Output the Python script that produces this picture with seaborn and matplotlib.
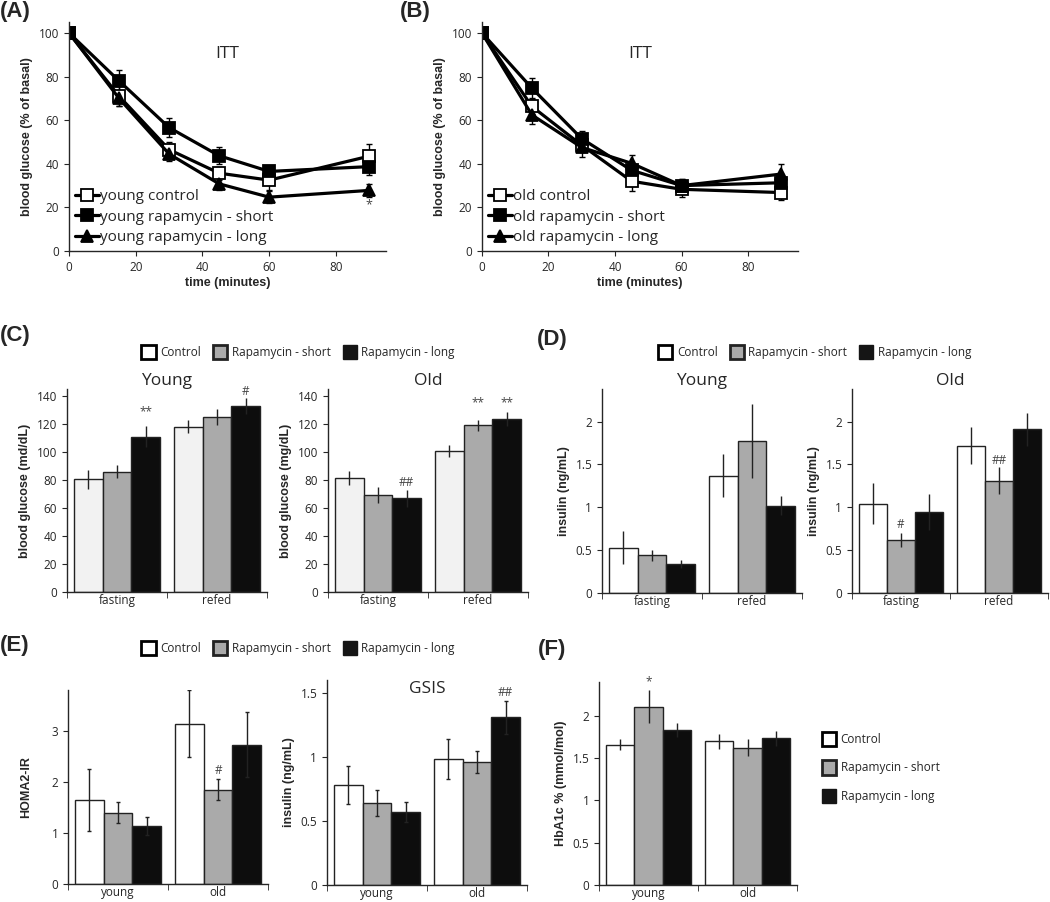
import numpy as np
import pandas as pd
import seaborn as sns
import matplotlib
matplotlib.use("Agg")
import matplotlib.pyplot as plt
from matplotlib.patches import Patch

# ---- data ----
times = [0, 15, 30, 45, 60, 90]
young_control = [100, 71, 46.5, 35.7, 32.5, 43.5]
young_control_err = [0, 4.5, 3.5, 3, 4.5, 5.5]
young_short = [100, 78, 56.6, 43.7, 36.5, 38.7]
young_short_err = [0, 5, 4.4, 3.8, 2.5, 3.8]
young_long = [100, 70, 44.5, 30.8, 24.7, 27.8]
young_long_err = [0, 3.5, 3, 2.8, 2.7, 3]
old_control = [100, 66.3, 48.5, 32, 28.3, 26.8]
old_control_err = [0, 3.5, 3, 4.5, 3.5, 3.5]
old_short = [100, 74.7, 51.5, 37, 30, 31.3]
old_short_err = [0, 4.6, 3.5, 3, 3, 4]
old_long = [100, 62.4, 47.5, 40.2, 30, 35.3]
old_long_err = [0, 4.2, 4.5, 4, 3, 4.6]

treatments = ["Control", "Rapamycin - short", "Rapamycin - long"]
meals = ["fasting", "refed"]
ages = ["young", "old"]

# (C) blood glucose, one list per treatment over [fasting, refed]
glu_young = [[80.5, 118], [86, 125], [111, 132.5]]
glu_young_err = [[6.8, 4.8], [4.5, 5.5], [7.6, 5.7]]
glu_old = [[81.5, 101], [69, 119], [67, 123.5]]
glu_old_err = [[4.9, 4.3], [5.7, 4.0], [6, 5.2]]

# (D) insulin
ins_young = [[0.53, 1.37], [0.44, 1.77], [0.34, 1.02]]
ins_young_err = [[0.19, 0.25], [0.065, 0.43], [0.05, 0.11]]
ins_old = [[1.04, 1.72], [0.62, 1.31], [0.94, 1.91]]
ins_old_err = [[0.24, 0.22], [0.08, 0.16], [0.21, 0.19]]

# (E) HOMA2-IR and GSIS over [young, old]
homa = [[1.65, 3.14], [1.40, 1.85], [1.14, 2.73]]
homa_err = [[0.61, 0.66], [0.2, 0.2], [0.18, 0.64]]
gsis = [[0.78, 0.985], [0.64, 0.957], [0.57, 1.31]]
gsis_err = [[0.15, 0.155], [0.1, 0.085], [0.08, 0.13]]

# (F) HbA1c
hba1c = [[1.66, 1.70], [2.11, 1.625], [1.83, 1.735]]
hba1c_err = [[0.06, 0.09], [0.2, 0.1], [0.08, 0.09]]

# significance marks: (group, treatment, text, y)
glu_young_marks = [("fasting", "Rapamycin - long", "**", 129), ("refed", "Rapamycin - long", "#", 143)]
glu_old_marks = [("fasting", "Rapamycin - long", "##", 78), ("refed", "Rapamycin - short", "**", 135),
                 ("refed", "Rapamycin - long", "**", 135)]
ins_old_marks = [("fasting", "Rapamycin - short", "#", 0.80), ("refed", "Rapamycin - short", "##", 1.55)]
homa_marks = [("old", "Rapamycin - short", "#", 2.23)]
gsis_marks = [("old", "Rapamycin - long", "##", 1.50)]
hba1c_marks = [("young", "Rapamycin - short", "*", 2.40)]

# ---- style ----
sns.set_style("ticks")
plt.rcParams["font.family"] = ["Open Sans", "DejaVu Sans"]
plt.rcParams["axes.linewidth"] = 1.0
plt.rcParams["xtick.labelsize"] = 8.5
plt.rcParams["ytick.labelsize"] = 8.5
plt.rcParams["xtick.major.size"] = 3.5
plt.rcParams["ytick.major.size"] = 3.5

BOLD = dict(family=["Liberation Sans", "DejaVu Sans"], weight="bold")
gray = "#aaaaaa"
dark = "#0d0d0d"
edge = "#222222"

fig = plt.figure(figsize=(10.5, 9.02), dpi=100)


def itt_panel(ax, series, labels):
    styles = [("s", "white", 8), ("s", "black", 8), ("^", "black", 9)]
    for (vals, err), lab, (mk, fc, ms) in zip(series, labels, styles):
        ax.errorbar(times, vals, yerr=err, fmt="none", ecolor="black", elinewidth=1,
                    capsize=2, capthick=1, zorder=1)
        sns.lineplot(x=times, y=vals, ax=ax, color="black", linewidth=2.3, marker=mk,
                     markersize=ms, markerfacecolor=fc, markeredgecolor="black",
                     markeredgewidth=1.3, label=lab, zorder=2)
    ax.set_xlim(0, 95)
    ax.set_ylim(0, 105)
    ax.set_xticks([0, 20, 40, 60, 80])
    ax.set_yticks([0, 20, 40, 60, 80, 100])
    ax.set_xlabel("time (minutes)", fontsize=9, labelpad=2, **BOLD)
    ax.set_ylabel("blood glucose (% of basal)", fontsize=9, **BOLD)
    ax.legend(loc="lower left", frameon=False, fontsize=11, handlelength=1.55,
              handletextpad=0.1, labelspacing=0.35, borderpad=0, borderaxespad=0.4)
    ax.text(0.5, 0.86, "ITT", transform=ax.transAxes, ha="center", va="center", fontsize=12.5)
    sns.despine(ax=ax)


def bar_panel(ax, cats, means, errs, colors, ylim, yticks, ylabel, marks=(), capsize=0,
              labelpad=4):
    df = pd.DataFrame({
        "group": [c for t in treatments for c in cats],
        "treatment": [t for t in treatments for c in cats],
        "value": [v for m in means for v in m],
    })
    sns.barplot(data=df, x="group", y="value", hue="treatment", order=cats,
                hue_order=treatments, palette=colors, saturation=1, width=0.86, gap=0,
                edgecolor=edge, linewidth=1, errorbar=None, legend=False, ax=ax)
    bars = list(ax.containers[:3])
    for cont, m, e in zip(bars, means, errs):
        xs = [p.get_x() + p.get_width() / 2 for p in cont]
        ax.errorbar(xs, m, yerr=e, fmt="none", ecolor=edge, elinewidth=1,
                    capsize=capsize, capthick=1, zorder=3)
    for g, t, txt, y in marks:
        p = bars[treatments.index(t)][cats.index(g)]
        ax.text(p.get_x() + p.get_width() / 2, y, txt, ha="center", va="center",
                fontsize=8.5, color="#444444")
    ax.set_ylim(*ylim)
    ax.set_yticks(yticks)
    ax.set_yticklabels([f"{t:g}" for t in yticks])
    ax.set_xlim(-0.5, len(cats) - 0.5)
    ax.set_xlabel("")
    ax.set_ylabel(ylabel, fontsize=9, labelpad=labelpad, **BOLD)
    ax.tick_params(axis="x", which="major", length=0, pad=1.5)
    ax.set_xticks([-0.5, 0.5, 1.5], minor=True)
    ax.tick_params(axis="x", which="minor", length=4, direction="out")
    sns.despine(ax=ax)


def legend_handles():
    return [Patch(facecolor="white", edgecolor="black", linewidth=2),
            Patch(facecolor=gray, edgecolor=edge, linewidth=2),
            Patch(facecolor="#151515", edgecolor="#151515", linewidth=1)]


# (A) / (B)
ax_a = fig.add_axes([0.0657, 0.7217, 0.3019, 0.2539])
itt_panel(ax_a, [(young_control, young_control_err), (young_short, young_short_err),
                 (young_long, young_long_err)],
          ["young control", "young rapamycin - short", "young rapamycin - long"])
ax_a.text(90, 21, "*", ha="center", va="center", fontsize=9, color="#444444")

ax_b = fig.add_axes([0.459, 0.7217, 0.301, 0.2539])
itt_panel(ax_b, [(old_control, old_control_err), (old_short, old_short_err),
                 (old_long, old_long_err)],
          ["old control", "old rapamycin - short", "old rapamycin - long"])

# (C)
c_colors = ["#f2f2f2", gray, dark]
w_colors = ["white", gray, dark]
ax_c1 = fig.add_axes([0.0638, 0.3437, 0.1905, 0.2251])
bar_panel(ax_c1, meals, glu_young, glu_young_err, c_colors, (0, 145),
          [0, 20, 40, 60, 80, 100, 120, 140], "blood glucose (md/dL)", glu_young_marks)
ax_c1.set_title("Young", fontsize=12.5, pad=1)
ax_c2 = fig.add_axes([0.3124, 0.3437, 0.1905, 0.2251])
bar_panel(ax_c2, meals, glu_old, glu_old_err, c_colors, (0, 145),
          [0, 20, 40, 60, 80, 100, 120, 140], "blood glucose (mg/dL)", glu_old_marks)
ax_c2.set_title("Old", fontsize=12.5, pad=1)

# (D)
ax_d1 = fig.add_axes([0.5733, 0.3426, 0.1905, 0.2262])
bar_panel(ax_d1, meals, ins_young, ins_young_err, w_colors, (0, 2.38),
          [0, 0.5, 1, 1.5, 2], "insulin (ng/mL)")
ax_d1.set_title("Young", fontsize=12.5, pad=1)
ax_d2 = fig.add_axes([0.8114, 0.3426, 0.1867, 0.2262])
bar_panel(ax_d2, meals, ins_old, ins_old_err, w_colors, (0, 2.38),
          [0, 0.5, 1, 1.5, 2], "insulin (ng/mL)", ins_old_marks)
ax_d2.set_title("Old", fontsize=12.5, pad=1)

# (E)
ax_e1 = fig.add_axes([0.0648, 0.020, 0.1905, 0.2150])
bar_panel(ax_e1, ages, homa, homa_err, w_colors, (0, 3.8), [0, 1, 2, 3], "HOMA2-IR",
          homa_marks, capsize=1.5, labelpad=14)
ax_e2 = fig.add_axes([0.3114, 0.019, 0.1905, 0.2271])
bar_panel(ax_e2, ages, gsis, gsis_err, w_colors, (0, 1.6), [0, 0.5, 1, 1.5],
          "insulin (ng/mL)", gsis_marks, capsize=1.5)
ax_e2.text(0.5, 0.995, "GSIS", transform=ax_e2.transAxes, ha="center", va="top", fontsize=12.5)

# (F)
ax_f = fig.add_axes([0.5705, 0.019, 0.1886, 0.2249])
bar_panel(ax_f, ages, hba1c, hba1c_err, w_colors, (0, 2.4), [0, 0.5, 1, 1.5, 2],
          "HbA1c % (mmol/mol)", hba1c_marks)

# legends
leg_kw = dict(frameon=False, fontsize=8.5, handlelength=1.2, handleheight=1.5,
              handletextpad=0.4, columnspacing=1.0, borderpad=0)
fig.legend(legend_handles(), treatments, loc="center", bbox_to_anchor=(0.284, 0.610), ncol=3, **leg_kw)
fig.legend(legend_handles(), treatments, loc="center", bbox_to_anchor=(0.776, 0.610), ncol=3, **leg_kw)
fig.legend(legend_handles(), treatments, loc="center", bbox_to_anchor=(0.284, 0.2816), ncol=3, **leg_kw)
fig.legend(legend_handles(), treatments, loc="center left", bbox_to_anchor=(0.777, 0.149),
           ncol=1, labelspacing=1.2, **leg_kw)

# panel letters
for lab, x, y in [("(A)", 0, 12), ("(B)", 400, 12), ("(C)", 0, 335), ("(D)", 537, 340),
                  ("(E)", 0, 645), ("(F)", 538, 650)]:
    fig.text(x / 1050, 1 - y / 902, lab, ha="left", va="center", fontsize=16, **BOLD)

fig.savefig("out.png", dpi=100)
